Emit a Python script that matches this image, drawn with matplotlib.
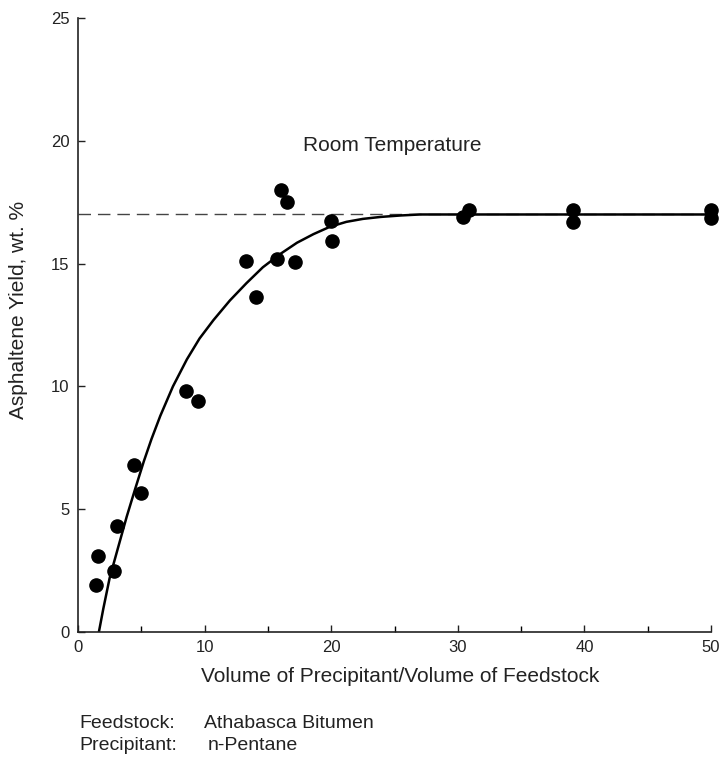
import matplotlib.pyplot as plt

plt.rcParams['font.family'] = ['Liberation Sans', 'DejaVu Sans']

# values
vol_ratio = [1.4, 1.55, 2.85, 3.05, 4.45, 5.0, 8.5, 9.45, 13.3, 14.05,
             15.7, 16.05, 16.5, 17.15, 20.0, 20.1, 30.4, 30.9, 39.1, 39.1,
             50.0, 50.0]
yield_pct = [1.9, 3.1, 2.5, 4.3, 6.8, 5.65, 9.8, 9.4, 15.1, 13.65,
             15.2, 18.0, 17.5, 15.05, 16.75, 15.9, 16.9, 17.2, 17.2, 16.7,
             17.2, 16.85]

# fitted curve
fit_x = [1.65, 2.0, 2.5, 3.2, 3.85, 4.5, 5.2, 5.8, 6.5, 7.5, 8.6, 9.6,
         10.7, 12.0, 13.3, 14.6, 16.0, 17.3, 18.6, 19.9, 21.2, 22.5,
         23.9, 25.5, 27.0, 30.0, 50.0]
fit_y = [0.0, 0.95, 2.2, 3.5, 4.7, 5.8, 6.95, 7.85, 8.8, 10.0, 11.1, 11.95,
         12.7, 13.5, 14.2, 14.85, 15.4, 15.85, 16.2, 16.5, 16.7, 16.82,
         16.9, 16.96, 17.0, 17.0, 17.0]

plateau = 17.0
x_ticks = [0, 10, 20, 30, 40, 50]
y_ticks = [0, 5, 10, 15, 20, 25]

W, H = 724, 761
fig = plt.figure(figsize=(W / 100, H / 100), dpi=100)
ax = fig.add_axes([78 / W, 1 - 632 / H, (711 - 78) / W, (632 - 18) / H])

ax.axhline(plateau, color='#444444', lw=1.0, dashes=(9, 5), zorder=1)
ax.plot(fit_x, fit_y, color='black', lw=1.8, zorder=2)
ax.scatter(vol_ratio, yield_pct, s=90, c='black', clip_on=False, zorder=3)

ax.text(24.8, 19.8, 'Room Temperature', ha='center', va='center',
        fontsize=15, color='#222222')

ax.set_xlim(0, 50)
ax.set_ylim(0, 25)
ax.set_xticks(x_ticks)
ax.set_xticks([5, 15, 25, 35, 45], minor=True)
ax.set_yticks(y_ticks)
ax.tick_params(direction='in', length=5, width=1, labelsize=12,
               colors='#222222')
ax.tick_params(axis='x', which='minor', direction='in', length=4, width=1)
ax.tick_params(axis='x', pad=6)
ax.tick_params(axis='y', pad=6)

for side in ['top', 'right']:
    ax.spines[side].set_visible(False)
for side in ['left', 'bottom']:
    ax.spines[side].set_linewidth(1.2)
    ax.spines[side].set_color('#222222')

# axis titles and footnote, placed in pixel terms
fig.text(400 / W, 1 - 676 / H, 'Volume of Precipitant/Volume of Feedstock',
         ha='center', va='center', fontsize=15, color='#222222')
fig.text(19 / W, 1 - 310 / H, 'Asphaltene Yield, wt. %', rotation=90,
         ha='center', va='center', fontsize=15, color='#222222')
fig.text(79 / W, 1 - 724 / H, 'Feedstock:', ha='left', va='center',
         fontsize=14, color='#222222')
fig.text(204 / W, 1 - 724 / H, 'Athabasca Bitumen', ha='left', va='center',
         fontsize=14, color='#222222')
fig.text(79 / W, 1 - 745 / H, 'Precipitant:', ha='left', va='center',
         fontsize=14, color='#222222')
fig.text(208 / W, 1 - 745 / H, 'n-Pentane', ha='left', va='center',
         fontsize=14, color='#222222')

fig.savefig('out.png', dpi=100)
